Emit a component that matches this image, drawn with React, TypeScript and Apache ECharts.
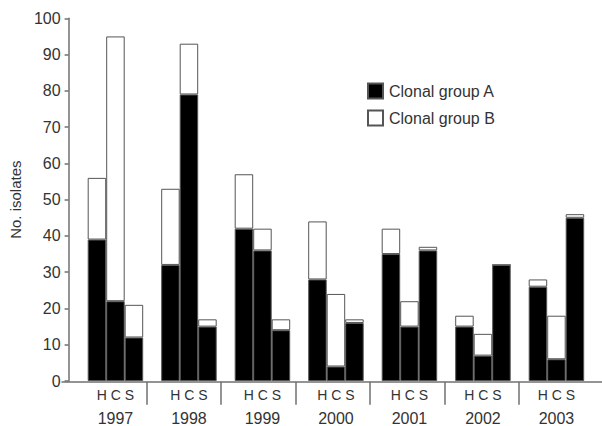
import React, { useEffect, useRef } from "react";
import * as echarts from "echarts";

const years = ["1997", "1998", "1999", "2000", "2001", "2002", "2003"];
const sourceLabel = "H C S";
const groupA_H = [39, 32, 42, 28, 35, 15, 26];
const groupB_H = [17, 21, 15, 16, 7, 3, 2];
const groupA_C = [22, 79, 36, 4, 15, 7, 6];
const groupB_C = [73, 14, 6, 20, 7, 6, 12];
const groupA_S = [12, 15, 14, 16, 36, 32, 45];
const groupB_S = [9, 2, 3, 1, 1, 0, 1];
const yTicks = { min: 0, max: 100, interval: 10 };

const FONT = "Liberation Sans, Arial, sans-serif";
const TEXT = "#333";
const AXIS = "#707070";

export default function App() {
  const ref = useRef<HTMLDivElement>(null);
  useEffect(() => {
    if (!ref.current) return;
    const chart = echarts.init(ref.current, null, { renderer: "svg" });
    const top = 18.3;
    const bottom = 44.3;
    const barStyleA = { color: "#000", borderColor: "#555", borderWidth: 1 };
    const barStyleB = { color: "#fff", borderColor: "#555", borderWidth: 1 };
    const mk = (name: string, stack: string, data: number[], style: any) => ({
      type: "bar",
      name,
      stack,
      data,
      barWidth: 18.5,
      barGap: "0%",
      xAxisIndex: 0,
      yAxisIndex: 0,
      itemStyle: style,
      emphasis: { disabled: true },
    });
    chart.setOption({
      animation: false,
      textStyle: { fontFamily: FONT },
      grid: [
        { left: 72.1, right: 8.8, top, bottom },
        { left: 62, right: 0, top, bottom },
        { left: 146.55, right: 602 - 146.55 - 372.25, top, bottom },
      ],
      legend: {
        orient: "vertical",
        left: 367,
        top: 82.5,
        padding: 0,
        itemWidth: 15,
        itemHeight: 15,
        itemGap: 10,
        icon: "rect",
        data: ["Clonal group A", "Clonal group B"],
        textStyle: { fontSize: 16, color: TEXT, fontFamily: FONT, padding: [0, 0, 0, 1] },
      },
      xAxis: [
        {
          type: "category",
          gridIndex: 0,
          data: years,
          axisLine: { show: false },
          axisTick: { show: false },
          axisLabel: {
            margin: 3,
            formatter: (v: string) => `{a|${sourceLabel}}\n{b|${v}}`,
            rich: {
              a: { fontSize: 14, lineHeight: 22, color: TEXT, fontFamily: FONT },
              b: { fontSize: 16, lineHeight: 24, color: TEXT, fontFamily: FONT },
            },
          },
        },
        {
          type: "value",
          gridIndex: 1,
          min: 0,
          max: 1,
          axisLine: { show: true, lineStyle: { color: AXIS, width: 1.5 } },
          axisTick: { show: false },
          axisLabel: { show: false },
          splitLine: { show: false },
        },
        {
          type: "value",
          gridIndex: 2,
          min: 0,
          max: 5,
          interval: 1,
          axisLine: { show: false },
          axisTick: { show: true, length: 23, lineStyle: { color: AXIS, width: 1.5 } },
          axisLabel: { show: false },
          splitLine: { show: false },
        },
      ],
      yAxis: [
        {
          type: "value",
          gridIndex: 0,
          min: yTicks.min,
          max: yTicks.max,
          interval: yTicks.interval,
          offset: 10.1,
          name: "No. isolates",
          nameLocation: "middle",
          nameRotate: 90,
          nameGap: 41,
          nameTextStyle: { fontSize: 15, color: TEXT, fontFamily: FONT },
          axisLine: { show: true, lineStyle: { color: AXIS, width: 1.5 } },
          axisTick: { show: true, length: 4, lineStyle: { color: AXIS, width: 1.5 } },
          axisLabel: { fontSize: 16, color: TEXT, margin: 8, fontFamily: FONT },
          splitLine: { show: false },
        },
        { type: "value", gridIndex: 1, show: false },
        { type: "value", gridIndex: 2, show: false },
      ],
      series: [
        mk("Clonal group A", "H", groupA_H, barStyleA),
        mk("Clonal group B", "H", groupB_H, barStyleB),
        mk("Clonal group A", "C", groupA_C, barStyleA),
        mk("Clonal group B", "C", groupB_C, barStyleB),
        mk("Clonal group A", "S", groupA_S, barStyleA),
        mk("Clonal group B", "S", groupB_S, barStyleB),
      ],
    });
    return () => chart.dispose();
  }, []);
  return (
    <div
      ref={ref}
      style={{ position: "absolute", left: 0, top: 0, width: 602, height: 426 }}
    />
  );
}
